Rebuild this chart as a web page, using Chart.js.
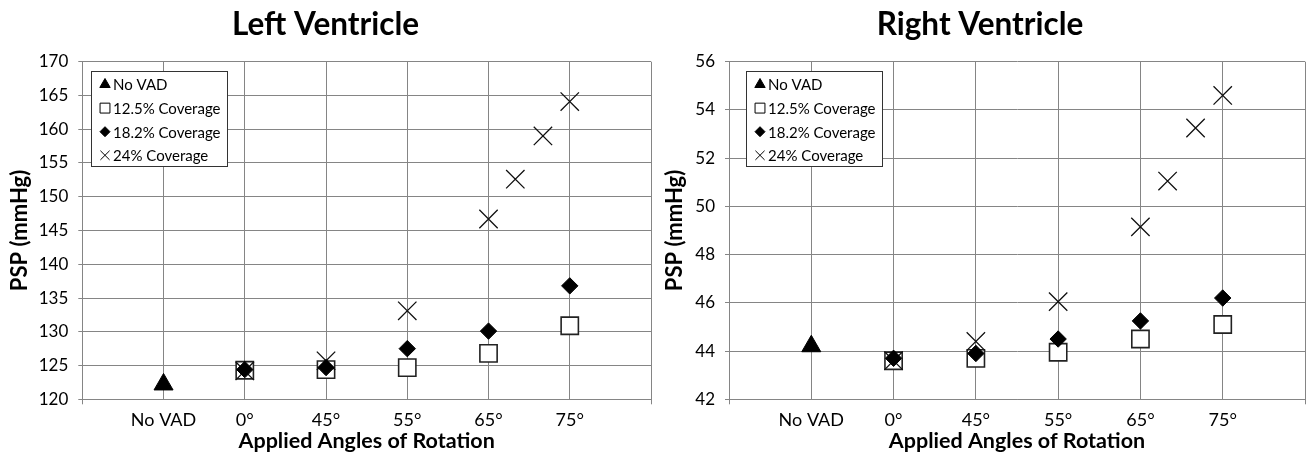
<!DOCTYPE html>
<html>
<head>
<meta charset="utf-8">
<script src="https://cdn.jsdelivr.net/npm/chart.js@4.4.1/dist/chart.umd.min.js"></script>
<style>
  body { margin: 0; background: #fff; }
  .panel { position: absolute; top: 0; width: 656px; height: 455px; }
</style>
</head>
<body>
<div class="panel" style="left:0"><canvas id="lv" width="656" height="455"></canvas></div>
<div class="panel" style="left:655px"><canvas id="rv" width="656" height="455"></canvas></div>
<script>
// categories on the x axis (positions 1..6)
const categories = ['No VAD', '0°', '45°', '55°', '65°', '75°'];
const xNoVad = [1];
const xCoverage = [2, 3, 4, 5, 6];
const x24 = [2, 3, 4, 5, 5.33, 5.67, 6];

// left ventricle PSP (mmHg)
const lvNoVad = [122.2];
const lv125 = [124.3, 124.4, 124.7, 126.8, 130.9];
const lv182 = [124.4, 124.7, 127.5, 130.1, 136.8];
const lv24 = [124.2, 125.7, 133.1, 146.7, 152.6, 159.0, 164.1];

// right ventricle PSP (mmHg)
const rvNoVad = [44.2];
const rv125 = [43.6, 43.7, 43.95, 44.5, 45.1];
const rv182 = [43.7, 43.9, 44.5, 45.25, 46.2];
const rv24 = [43.6, 44.4, 46.05, 49.15, 51.05, 53.25, 54.6];

const legendLabels = ['No VAD', '12.5% Coverage', '18.2% Coverage', '24% Coverage'];

Chart.defaults.font.family = 'Lato, "Open Sans", sans-serif';
Chart.defaults.color = '#000';

function pts(xs, ys) { return ys.map((y, i) => ({ x: xs[i], y: y })); }

// legend drawn inside the plot area, like the Excel original
const insideLegend = {
  id: 'insideLegend',
  afterDraw(chart, args, opts) {
    const ctx = chart.ctx, area = chart.chartArea;
    const x0 = Math.round(area.left + opts.dx), y0 = Math.round(area.top + opts.dy);
    ctx.save();
    ctx.fillStyle = '#fff';
    ctx.fillRect(x0, y0, opts.w, opts.h);
    ctx.strokeStyle = '#333';
    ctx.lineWidth = 1;
    ctx.strokeRect(x0 + 0.5, y0 + 0.5, opts.w, opts.h);
    ctx.font = '15px ' + Chart.defaults.font.family;
    ctx.textBaseline = 'middle';
    chart.data.datasets.forEach((ds, i) => {
      const cy = y0 + 13.5 + i * 23.6;
      const cx = x0 + 14;
      ctx.save();
      ctx.fillStyle = ds.pointStyle === 'rect' ? '#fff' : '#000';
      ctx.strokeStyle = '#000';
      ctx.lineWidth = 1;
      Chart.helpers.drawPoint(ctx, { pointStyle: ds.pointStyle, radius: opts.r[i], borderWidth: 1, rotation: 0 }, cx, cy);
      ctx.restore();
      ctx.fillStyle = '#000';
      ctx.fillText(ds.label, x0 + 22, cy + 1);
    });
    ctx.restore();
  }
};

function makeChart(id, title, data, yMin, yMax, yStep, yWidth, padRight, legendDx) {
  return new Chart(document.getElementById(id), {
    type: 'scatter',
    data: {
      datasets: [
        { label: legendLabels[0], data: pts(xNoVad, data[0]), pointStyle: 'triangle', pointRadius: 11,
          backgroundColor: '#000', borderColor: '#000', borderWidth: 1, order: 0 },
        { label: legendLabels[1], data: pts(xCoverage, data[1]), pointStyle: 'rect', pointRadius: 12.2,
          backgroundColor: '#fff', borderColor: '#222', borderWidth: 1.6, order: 3 },
        { label: legendLabels[2], data: pts(xCoverage, data[2]), pointStyle: 'rectRot', pointRadius: 8.2,
          backgroundColor: '#000', borderColor: '#000', borderWidth: 1, order: 1 },
        { label: legendLabels[3], data: pts(x24, data[3]), pointStyle: 'crossRot', pointRadius: 13,
          backgroundColor: '#000', borderColor: '#111', borderWidth: 1.3, order: 2 }
      ]
    },
    options: {
      responsive: false,
      animation: false,
      layout: { autoPadding: false, padding: { left: 0, right: padRight, top: 0, bottom: 0 } },
      plugins: {
        legend: { display: false },
        tooltip: { enabled: false },
        title: {
          display: true, text: title, color: '#000',
          font: { size: 31.5, weight: 'bold' },
          padding: { top: 6, bottom: 17.9 }
        },
        insideLegend: { dx: legendDx, dy: 9.3, w: 136, h: 95, r: [6, 7, 5, 6.5] }
      },
      scales: {
        x: {
          type: 'linear', min: 0, max: 7,
          afterFit(s) { s.height = 55.7; s.paddingLeft = 0; s.paddingRight = 0; },
          ticks: {
            stepSize: 1, padding: 5, font: { size: 18 },
            callback: v => (Number.isInteger(v) && v >= 1 && v <= 6) ? categories[v - 1] : ''
          },
          grid: {
            color: '#858585', lineWidth: 1, tickLength: 5,
            tickColor: c => (c.tick && (c.tick.value === 0 || c.tick.value === 7)) ? '#858585' : 'rgba(0,0,0,0)'
          },
          border: { color: '#858585' },
          title: {
            display: true, text: 'Applied Angles of Rotation', color: '#000',
            font: { size: 21.5, weight: 'bold' }, padding: { top: 0, bottom: 1 }
          }
        },
        y: {
          min: yMin, max: yMax,
          afterFit(s) { s.width = yWidth; s.paddingTop = 0; s.paddingBottom = 0; },
          ticks: { stepSize: yStep, padding: 10, font: { size: 17 } },
          grid: { color: '#858585', lineWidth: 1, tickLength: 4 },
          border: { color: '#858585' },
          title: {
            display: true, text: 'PSP (mmHg)', color: '#000',
            font: { size: 22, weight: 'bold' }, padding: { top: 7, bottom: 0 }
          }
        }
      }
    },
    plugins: [insideLegend]
  });
}

makeChart('lv', 'Left Ventricle', [lvNoVad, lv125, lv182, lv24], 120, 170, 5, 82.3, 5, 8.4);
makeChart('rv', 'Right Ventricle', [rvNoVad, rv125, rv182, rv24], 42, 56, 2, 74, 6, 17);
</script>
</body>
</html>
